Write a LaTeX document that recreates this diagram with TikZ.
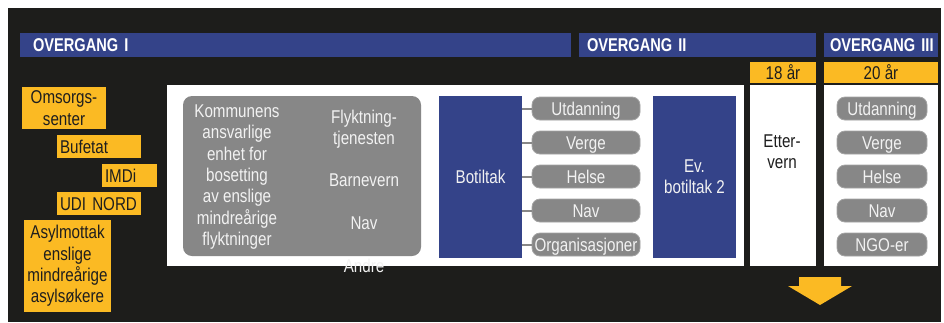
\documentclass[tikz,border=0pt]{standalone}
\usepackage{fontspec}
\setmainfont[FakeStretch=0.82, BoldFeatures={FakeStretch=0.79}]{Liberation Sans}
\definecolor{bg}{HTML}{1D1D1B}
\definecolor{ublue}{HTML}{344389}
\definecolor{uyel}{HTML}{FBBA23}
\definecolor{ugray}{HTML}{878787}
\definecolor{uline}{HTML}{A4A4A4}
\definecolor{utxt}{HTML}{F2F2F2}
\definecolor{udark}{HTML}{1E1E1E}
\begin{document}
\begin{tikzpicture}[x=1pt,y=-1pt,
  every node/.style={inner sep=0pt, outer sep=0pt, font=\fontsize{18.5}{21.3}\selectfont},
  one/.style={text height=13.2pt, text depth=0pt},
  bar/.style={one, fill=ublue, text=white, font=\fontsize{18.5}{21.3}\selectfont\bfseries, minimum height=24pt, align=left},
  tag/.style={one, fill=uyel, text=udark, minimum height=21pt},
  panel/.style={fill=white, minimum height=180.5pt},
  navy/.style={fill=ublue, text=utxt, minimum width=83pt, minimum height=161.5pt, align=center},
  pill/.style={one, fill=ugray, draw=uline, line width=0.8pt, rounded corners=8pt, text=utxt, minimum height=23pt},
  ybox/.style={fill=uyel, text=udark, align=center},
  yleft/.style={one, fill=uyel, text=udark, minimum height=23pt, align=left, inner xsep=3pt},
  conn/.style={draw=ugray, line width=2pt}
]
% background
\fill[white] (0,0) rectangle (944,322);
\fill[bg] (8,8) rectangle (941,322);

% header bars
\node[bar, inner xsep=13pt, text width=525pt] (b1) at (295.5,45) {\mbox{OVERGANG I}};
\node[bar, inner xsep=8pt, text width=221pt] (b2) at (697.5,45) {\mbox{OVERGANG II}};
\node[bar, inner xsep=6pt, text width=102pt] (b3) at (881,45) {\mbox{OVERGANG III}};

% age tags
\node[tag, minimum width=66pt] (y18) at (783,72.5) {18 år};
\node[tag, minimum width=114pt] (y20) at (881,72.5) {20 år};

% white panels
\node[panel, minimum width=577pt] (main) at (455.5,175.25) {};
\node[panel, minimum width=66pt] (etter) at (783,175.25) {};
\node[panel, minimum width=114pt] (right) at (881,175.25) {};

% big gray box
\node[fill=ugray, rounded corners=9pt, minimum width=238pt, minimum height=160pt] (gbox) at (302,176) {};
\node[text=utxt, align=center] (komm) at (237,177) {Kommunens\\ansvarlige\\enhet for\\bosetting\\av enslige\\mindreårige\\flyktninger};
\node[text=utxt, align=center] (flykt) at (364,191) {Flyktning-\\tjenesten\\ \\Barnevern\\ \\Nav\\ \\Andre};

% botiltak
\node[navy] (bot) at (480.5,176.75) {Botiltak};
\node[pill, minimum width=108pt] (p1) at (586,108.5) {Utdanning};
\node[pill, minimum width=108pt] (p2) at (586,142.5) {Verge};
\node[pill, minimum width=108pt] (p3) at (586,176.5) {Helse};
\node[pill, minimum width=108pt] (p4) at (586,210.5) {Nav};
\node[pill, minimum width=108pt] (p5) at (586,244.5) {Organisasjoner};
\foreach \p in {p1,p2,p3,p4,p5}
  \draw[conn] (bot.east |- \p.west) -- (\p.west);

\node[navy] (ev) at (694.5,176.75) {Ev.\\botiltak 2};

% ettervern
\node[text=udark, align=center] (ettert) at (782,151.5) {Etter-\\vern};

% right pills
\node[pill, minimum width=90pt] (r1) at (882,108.5) {Utdanning};
\node[pill, minimum width=90pt] (r2) at (882,142.5) {Verge};
\node[pill, minimum width=90pt] (r3) at (882,176.5) {Helse};
\node[pill, minimum width=90pt] (r4) at (882,210.5) {Nav};
\node[pill, minimum width=90pt] (r5) at (882,244.5) {NGO-er};

% left yellow boxes
\node[ybox, minimum width=84pt, minimum height=42pt] (oms) at (64,108) {Omsorgs-\\senter};
\node[yleft, text width=78pt] (buf) at (99,146.5) {Bufetat};
\node[yleft, text width=49pt] (imdi) at (129.5,175.5) {IMDi};
\node[yleft, text width=78pt] (udi) at (99,203.5) {UDI NORD};
\node[ybox, minimum width=87pt, minimum height=92pt] (asyl) at (67.5,266) {Asylmottak\\enslige\\mindreårige\\asylsøkere};

% down arrow
\fill[uyel] (799,277) -- (841,277) -- (841,286) -- (852,286) -- (820,305) -- (788,286) -- (799,286) -- cycle;
\end{tikzpicture}
\end{document}
